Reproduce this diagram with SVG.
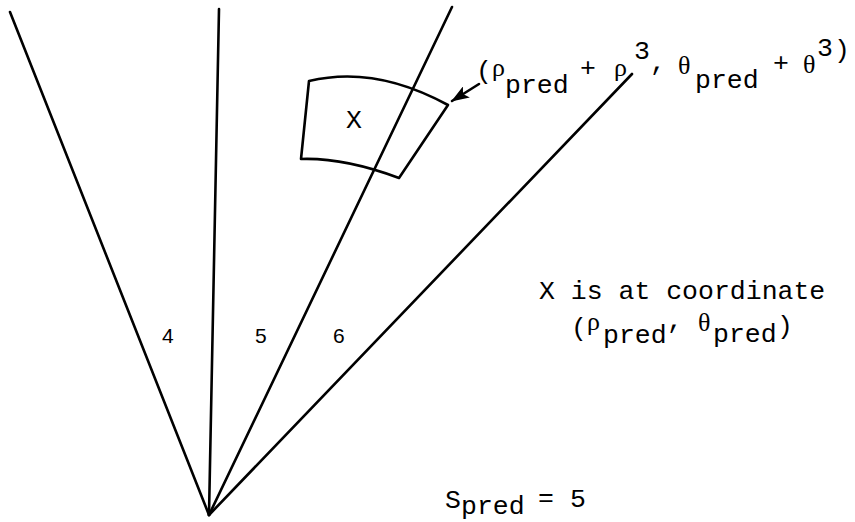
<svg xmlns="http://www.w3.org/2000/svg" width="855" height="522" viewBox="0 0 855 522">
<style>
.ln{stroke:#000;stroke-width:2.6;fill:none;stroke-linecap:round;stroke-linejoin:round}
.t{font-family:"Liberation Mono","DejaVu Sans Mono",monospace;font-size:26.5px;fill:#000}
.g{font-family:"Liberation Serif","DejaVu Serif",serif;font-size:26px;fill:#000}
.n{font-family:"Liberation Sans","DejaVu Sans",sans-serif;font-size:21px;fill:#000}
</style>
<defs>
<marker id="ah" markerUnits="userSpaceOnUse" markerWidth="18" markerHeight="13" refX="17" refY="6.5" orient="auto">
<path d="M0,0 L18,6.5 L0,13 L4,6.5 z" fill="#000"/>
</marker>
</defs>
<rect width="855" height="522" fill="#fff"/>
<g id="sector-lines">
<line class="ln" x1="209" y1="515" x2="10" y2="12"/>
<line class="ln" x1="209" y1="515" x2="219" y2="9"/>
<line class="ln" x1="209" y1="515" x2="452" y2="7"/>
<line class="ln" x1="209" y1="515" x2="632" y2="74"/>
</g>
<g id="sector-labels">
<text class="n" x="162" y="343">4</text>
<text class="n" x="255" y="343">5</text>
<text class="n" x="333" y="343">6</text>
</g>
<g id="cell">
<path class="ln" d="M309,81 Q375,65 448,105 L399,178 Q344,157.5 301,159 Z"/>
<text class="t" x="346" y="128">X</text>
</g>
<g id="connectors">
<line class="ln" x1="479" y1="84" x2="452" y2="101" marker-end="url(#ah)"/>
</g>
<g id="predicted-label">
<text class="t" x="476" y="79">(</text>
<text class="g" x="492" y="76">ρ</text>
<text class="t" x="505" y="93">pred</text>
<text class="t" x="580" y="76">+</text>
<text class="g" x="614" y="76">ρ</text>
<text class="t" x="634" y="59">3</text>
<text class="t" x="650" y="70">,</text>
<text class="g" x="678" y="74">θ</text>
<text class="t" x="695" y="88">pred</text>
<text class="t" x="773" y="71">+</text>
<text class="g" x="803" y="73">θ</text>
<text class="t" x="817" y="56">3</text>
<text class="t" x="834" y="58">)</text>
</g>
<g id="coordinate-note">
<text class="t" x="539" y="299">X is at coordinate</text>
<text class="t" x="571" y="336">(</text>
<text class="g" x="587" y="330">ρ</text>
<text class="t" x="603" y="343">pred</text>
<text class="t" x="667" y="328">,</text>
<text class="g" x="698" y="331">θ</text>
<text class="t" x="713" y="342">pred</text>
<text class="t" x="777" y="334">)</text>
</g>
<g id="sector-note">
<text class="t" x="445" y="508">S</text>
<text class="t" x="461" y="514">pred</text>
<text class="t" x="538" y="506">=</text>
<text class="t" x="570" y="507">5</text>
</g>
</svg>
